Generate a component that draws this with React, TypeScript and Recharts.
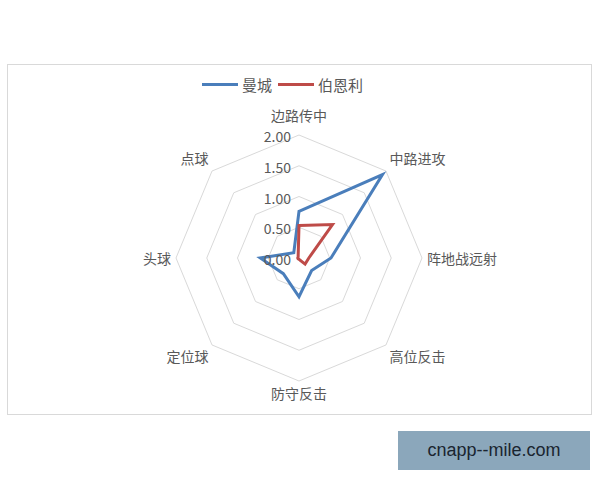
import React from "react";
import {
    RadarChart,
    Radar,
    PolarGrid,
    PolarAngleAxis,
    PolarRadiusAxis,
    Legend,
} from "recharts";

const categories = [
    "边路传中",
    "中路进攻",
    "阵地战远射",
    "高位反击",
    "防守反击",
    "定位球",
    "头球",
    "点球",
];
const manCity = [0.76, 1.92, 0.52, 0.29, 0.63, 0.36, 0.63, 0.12];
const burnley = [0.53, 0.77, 0.16, 0.14, 0.02, 0.02, 0.02, 0.02];
const radiusTicks = [0, 0.5, 1, 1.5, 2];

const seriesNames = ["曼城", "伯恩利"];
const BLUE = "#4A7EBB";
const RED = "#BE4B48";
const TEXT = "#595959";
const FONT = '"Noto Sans CJK SC", "Noto Sans", sans-serif';

const CHART_W = 585;
const CHART_H = 351;
const CX = 291;
const CY = 193;

const data = categories.map((name, i) => ({
    name,
    manCity: manCity[i],
    burnley: burnley[i],
}));

function AngleTick(props: any) {
    const { x, y, textAnchor, payload } = props;
    let dy = 0;
    if (textAnchor === "middle" && y < CY) dy = -15;
    else if (y < CY - 2) dy = -9;
    else if (y > CY + 2) dy = 7;
    return (
        <text
            x={x}
            y={y + dy}
            textAnchor={textAnchor}
            dominantBaseline="central"
            fill={TEXT}
            fontSize={14}
            fontFamily={FONT}
        >
            {payload.value}
        </text>
    );
}

function RadiusTick(props: any) {
    const { x, y, payload } = props;
    return (
        <text
            x={x - 8}
            y={y + 1}
            textAnchor="end"
            dominantBaseline="central"
            fill={TEXT}
            fontSize={14}
            fontFamily={FONT}
        >
            {Number(payload.value).toFixed(2)}
        </text>
    );
}

function LegendContent() {
    const colors = [BLUE, RED];
    return (
        <div
            style={{
                display: "flex",
                justifyContent: "center",
                fontFamily: FONT,
                fontSize: 15,
                color: TEXT,
            }}
        >
            {seriesNames.map((n, i) => (
                <div
                    key={n}
                    style={{ display: "flex", alignItems: "center", marginRight: 6 }}
                >
                    <span
                        style={{
                            display: "inline-block",
                            width: 36,
                            height: 3,
                            background: colors[i],
                            marginRight: 4,
                        }}
                    />
                    <span>{n}</span>
                </div>
            ))}
        </div>
    );
}

export default function App() {
    return (
        <div
            style={{
                position: "absolute",
                left: 0,
                top: 0,
                width: 600,
                height: 480,
                background: "#fff",
            }}
        >
            <div
                style={{
                    position: "absolute",
                    left: 7,
                    top: 64,
                    width: CHART_W,
                    height: CHART_H,
                    border: "1px solid #d9d9d9",
                    boxSizing: "border-box",
                }}
            >
                <RadarChart
                    width={CHART_W - 2}
                    height={CHART_H - 2}
                    data={data}
                    cx={CX}
                    cy={CY}
                    outerRadius={123}
                    margin={{ top: 0, right: 0, bottom: 0, left: 0 }}
                >
                    <PolarGrid
                        gridType="polygon"
                        radialLines={false}
                        stroke="#d9d9d9"
                    />
                    <PolarAngleAxis
                        dataKey="name"
                        tick={<AngleTick />}
                        tickSize={5}
                        axisLine={false}
                        tickLine={false}
                    />
                    <PolarRadiusAxis
                        angle={90}
                        domain={[0, 2]}
                        ticks={radiusTicks as any}
                        tickCount={5}
                        axisLine={false}
                        tickLine={false}
                        tick={<RadiusTick />}
                    />
                    <Radar
                        name={seriesNames[0]}
                        dataKey="manCity"
                        stroke={BLUE}
                        strokeWidth={3}
                        fill="none"
                        fillOpacity={0}
                        dot={false}
                        isAnimationActive={false}
                    />
                    <Radar
                        name={seriesNames[1]}
                        dataKey="burnley"
                        stroke={RED}
                        strokeWidth={3}
                        fill="none"
                        fillOpacity={0}
                        dot={false}
                        isAnimationActive={false}
                    />
                    <Legend
                        verticalAlign="top"
                        content={<LegendContent />}
                        wrapperStyle={{ top: 9, left: -14, width: CHART_W - 2 }}
                    />
                </RadarChart>
            </div>
            <div
                style={{
                    position: "absolute",
                    left: 398,
                    top: 431,
                    width: 192,
                    height: 39,
                    background: "#8BA7BB",
                    display: "flex",
                    alignItems: "center",
                    justifyContent: "center",
                    fontFamily: '"Liberation Sans", Arial, sans-serif',
                    fontSize: 18,
                    color: "#1a2530",
                }}
            >
                cnapp--mile.com
            </div>
        </div>
    );
}
